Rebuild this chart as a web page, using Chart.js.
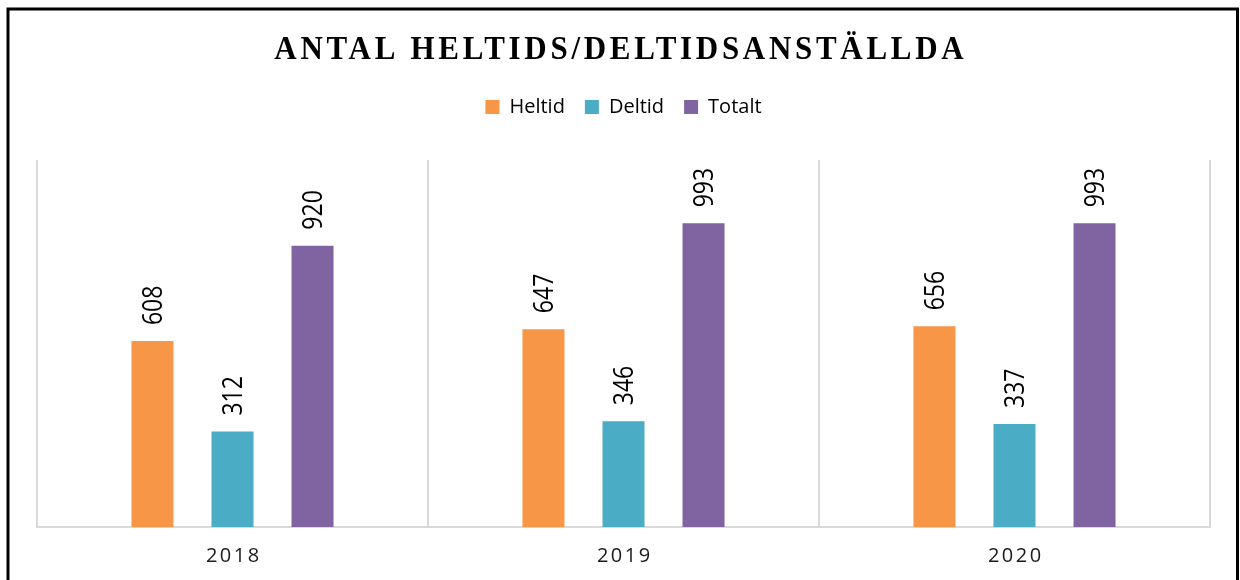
<!DOCTYPE html>
<html><head><meta charset="utf-8">
<script src="https://cdn.jsdelivr.net/npm/chart.js@4"></script>
<style>html,body{margin:0;padding:0;background:#fff;}#wrap{width:1240px;height:580px;position:relative;}</style>
</head><body><div id="wrap"><canvas id="c" width="1240" height="580"></canvas></div>
<script>
const chartTitle = "ANTAL HELTIDS/DELTIDSANSTÄLLDA";
const categories = ["2018", "2019", "2020"];
const seriesNames = ["Heltid", "Deltid", "Totalt"];
const heltid = [608, 647, 656];
const deltid = [312, 346, 337];
const totalt = [920, 993, 993];
const seriesColors = ["#F79646", "#4BACC6", "#8064A2"];
const yMin = 0, yMax = 1200;

const framePlugin = {
  id: 'frame',
  beforeDraw(chart) {
    const ctx = chart.ctx;
    ctx.save();
    ctx.fillStyle = '#fff';
    ctx.fillRect(0, 0, chart.width, chart.height);
    ctx.strokeStyle = '#000';
    ctx.lineWidth = 3;
    ctx.strokeRect(8, 9, 1229.5, 620);
    ctx.restore();
  },
  afterDraw(chart) {
    const ctx = chart.ctx;
    ctx.save();
    ctx.font = 'bold 31px "Liberation Serif", "Times New Roman", serif';
    ctx.letterSpacing = '3.7px';
    ctx.fillStyle = '#000';
    ctx.textBaseline = 'alphabetic';
    const w = ctx.measureText(chartTitle).width - 3.7;
    ctx.translate(619, 59);
    ctx.scale(1, 1.12);
    ctx.fillText(chartTitle, -w / 2, 0);
    ctx.restore();
  }
};

const layoutTweaks = {
  id: 'layoutTweaks',
  beforeLayout(chart) {
    const lg = chart.legend;
    if (lg && !lg._patchedFit) {
      const origFit = lg.fit;
      lg.fit = function () {
        origFit.call(this);
        this.height += 33;
      };
      lg._patchedFit = true;
    }
  },
  afterLayout(chart) {
    const s = chart.scales.x;
    if (s && !s._patchedLabels) {
      const orig = s.drawLabels;
      s.drawLabels = function (area) {
        const ctx = this.ctx;
        ctx.save();
        ctx.letterSpacing = '2.5px';
        ctx.translate(1.25, 0);
        orig.call(this, area);
        ctx.restore();
      };
      s._patchedLabels = true;
    }
  }
};

const valueLabels = {
  id: 'valueLabels',
  afterDatasetsDraw(chart) {
    const ctx = chart.ctx;
    ctx.save();
    ctx.font = '23px "Open Sans", sans-serif';
    ctx.fillStyle = '#000';
    ctx.textAlign = 'left';
    ctx.textBaseline = 'alphabetic';
    const capH = 23 * 0.714;
    chart.data.datasets.forEach((ds, i) => {
      const meta = chart.getDatasetMeta(i);
      meta.data.forEach((el, j) => {
        ctx.save();
        ctx.translate(el.x, el.y - 16);
        ctx.rotate(-Math.PI / 2);
        ctx.scale(1, 1.18);
        ctx.fillText(String(ds.data[j]), 0, capH / 2);
        ctx.restore();
      });
    });
    ctx.restore();
  }
};

const seriesData = [heltid, deltid, totalt];
new Chart(document.getElementById('c'), {
  type: 'bar',
  data: {
    labels: categories,
    datasets: seriesNames.map((n, i) => ({
      label: n,
      data: seriesData[i],
      backgroundColor: seriesColors[i],
      borderWidth: 0,
      categoryPercentage: 0.614,
      barPercentage: 0.525
    }))
  },
  options: {
    responsive: false,
    animation: false,
    devicePixelRatio: 1,
    layout: { padding: { left: 37, right: 30, top: 77, bottom: 13 } },
    plugins: {
      title: { display: false },
      tooltip: { enabled: false },
      legend: {
        position: 'top',
        labels: {
          boxWidth: 14, boxHeight: 14, padding: 20,
          color: '#000',
          font: { family: '"Open Sans", sans-serif', size: 20 }
        }
      }
    },
    scales: {
      x: {
        grid: { offset: true, color: '#d9d9d9', lineWidth: 2, drawTicks: false },
        border: { color: '#d9d9d9', width: 2 },
        ticks: {
          color: '#1a1a1a', padding: 17,
          font: { family: '"Open Sans", sans-serif', size: 20 }
        },
        afterFit(scale) { scale.height = 40; }
      },
      y: { display: false, min: yMin, max: yMax }
    }
  },
  plugins: [framePlugin, layoutTweaks, valueLabels]
});
</script></body></html>
